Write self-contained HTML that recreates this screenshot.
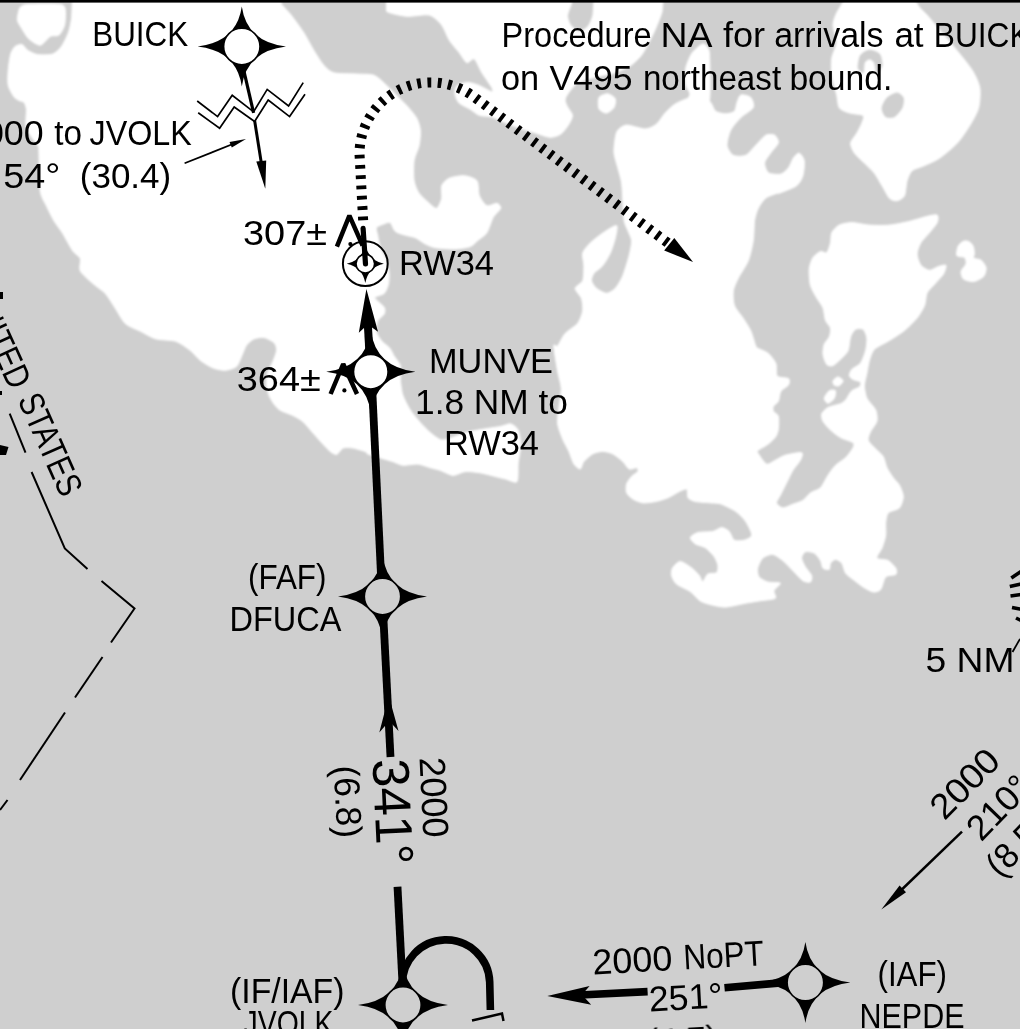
<!DOCTYPE html>
<html><head><meta charset="utf-8"><title>Chart</title>
<style>
html,body{margin:0;padding:0;background:#cfcfcf;}
body{width:1020px;height:1029px;overflow:hidden;}
svg{display:block;}
text{font-family:"Liberation Sans","DejaVu Sans",sans-serif;fill:#000;}
</style></head><body>
<svg width="1020" height="1029" viewBox="0 0 1020 1029">
<defs><filter id="bl" x="-2%" y="-2%" width="104%" height="104%"><feGaussianBlur stdDeviation="0.9"/></filter><filter id="bl2" x="-1%" y="-1%" width="102%" height="102%"><feGaussianBlur stdDeviation="0.75"/></filter></defs>
<rect width="1020" height="1029" fill="#cfcfcf"/>
<g filter="url(#bl)">
<g fill="#fff" stroke="#fff" stroke-width="1" stroke-linejoin="round">
<path d="M17.6,16.3 C17.9,14.6 18.9,9.0 20.1,7.5 C21.4,6.0 22.6,4.8 27.6,4.4 C32.6,4.0 55.5,3.7 60.2,4.4 C64.9,5.1 64.8,7.4 65.3,10.0 C65.8,12.6 65.4,22.0 64.6,25.1 C63.8,28.2 60.8,33.7 59.0,35.1 C57.2,36.5 52.6,35.1 50.2,36.4 C47.9,37.7 42.9,44.9 40.2,45.2 C37.5,45.5 31.2,40.9 28.9,38.9 C26.6,36.9 23.4,31.1 22.0,28.9 C20.6,26.7 18.2,22.9 17.6,21.3 C17.1,19.7 17.3,18.0 17.6,16.3Z"/>
<path d="M72.2,0.0 L72.2,3.1 C72.1,5.5 72.0,15.1 71.5,18.8 C71.0,22.5 69.7,29.2 68.4,32.6 C67.2,36.1 63.5,43.7 61.5,46.4 C59.5,49.1 55.7,53.0 52.7,54.0 C49.7,55.0 40.7,55.1 37.6,54.6 C34.5,54.1 29.6,51.5 27.6,50.2 C25.7,48.9 23.6,45.0 22.0,44.5 C20.4,44.0 16.5,45.2 15.1,46.4 C13.7,47.6 11.6,51.0 10.7,54.0 C9.8,57.0 8.5,66.4 8.2,70.3 C7.9,74.2 7.5,82.0 8.2,85.3 C8.9,88.6 12.5,94.7 13.8,96.6 C15.1,98.5 17.6,99.7 18.8,100.4 C20.1,101.1 22.9,101.2 23.8,102.3 C24.8,103.4 26.1,106.0 26.4,109.2 C26.7,112.4 25.0,123.5 26.4,128.0 C27.8,132.6 36.0,142.8 37.6,145.6 C39.2,148.4 38.6,145.0 38.9,150.6 C39.2,156.2 39.3,183.8 40.2,190.7 C41.1,197.6 44.7,202.0 46.4,205.8 C48.1,209.6 52.0,217.5 54.0,220.9 C56.0,224.3 60.4,229.6 62.7,233.4 C65.0,237.2 70.6,247.9 72.8,251.0 C75.0,254.1 79.4,256.0 80.3,258.5 C81.2,261.0 78.7,268.0 80.3,271.1 C81.9,274.2 89.8,280.8 92.9,283.6 C96.0,286.4 102.6,290.5 105.4,293.6 C108.2,296.7 113.0,304.9 115.5,308.7 C118.0,312.5 122.4,321.0 125.5,323.8 C128.6,326.6 136.7,329.4 140.5,331.3 C144.3,333.2 151.2,337.6 155.6,338.8 C160.0,340.1 171.4,339.9 175.7,341.3 C180.0,342.7 186.9,347.8 190.0,350.2 C193.1,352.6 197.3,358.0 200.1,360.2 C202.9,362.4 209.5,366.5 212.6,367.8 C215.7,369.1 222.2,370.5 225.2,370.3 C228.2,370.1 234.5,368.2 236.5,366.5 C238.5,364.8 240.2,359.2 241.5,356.5 C242.8,353.8 244.9,347.4 246.5,345.2 C248.1,343.0 251.8,339.8 254.0,338.9 C256.2,337.9 261.6,337.1 264.1,337.6 C266.6,338.1 272.5,341.1 274.1,342.7 C275.7,344.3 276.8,347.8 276.6,350.2 C276.5,352.6 274.0,358.7 272.9,361.5 C271.8,364.3 268.6,369.8 267.8,372.8 C267.0,375.8 266.4,382.5 266.6,385.3 C266.8,388.1 268.2,393.0 269.1,395.4 C270.0,397.8 272.7,402.3 274.1,404.2 C275.5,406.1 278.0,409.0 280.4,410.4 C282.8,411.8 290.1,414.1 292.9,415.5 C295.7,416.9 300.5,419.5 303.0,421.7 C305.5,423.9 310.5,430.2 313.0,433.0 C315.5,435.8 320.9,441.9 323.1,444.3 C325.3,446.7 328.9,450.5 330.6,451.8 C332.3,453.1 335.3,454.9 336.9,454.4 C338.5,453.9 341.1,448.9 343.1,448.1 C345.1,447.3 350.4,447.6 353.2,448.1 C356.0,448.6 363.9,451.1 365.7,451.8 C367.5,452.5 365.8,453.2 367.6,454.0 C369.4,454.8 377.1,456.9 380.2,457.8 C383.3,458.8 389.9,460.7 392.7,461.6 C395.5,462.5 399.7,465.0 402.8,465.3 C405.9,465.6 414.4,463.8 417.8,464.1 C421.2,464.4 427.6,467.0 430.4,467.8 C433.2,468.6 437.6,469.4 440.4,470.4 C443.2,471.3 449.9,475.2 453.0,475.4 C456.1,475.5 462.1,471.9 465.5,471.6 C468.9,471.3 476.8,472.3 480.6,472.9 C484.4,473.5 492.5,475.8 495.6,476.6 C498.7,477.4 503.0,478.5 505.7,479.1 C508.4,479.7 515.4,483.6 517.0,481.6 C518.6,479.6 517.7,467.3 518.2,462.8 C518.7,458.3 520.7,449.4 520.7,445.3 C520.7,441.2 519.5,432.9 518.2,430.2 C517.0,427.5 512.9,424.4 510.7,423.9 C508.5,423.4 505.7,425.4 500.7,426.4 C495.7,427.3 477.1,429.9 470.5,431.5 C463.9,433.1 451.8,438.0 448.0,439.0 C444.2,440.0 442.6,440.5 440.4,439.7 C438.2,438.9 432.9,434.8 430.4,432.7 C427.9,430.6 422.9,425.5 420.4,422.7 C417.9,419.9 412.5,413.6 410.3,410.1 C408.1,406.7 404.1,398.9 402.8,395.1 C401.6,391.3 400.6,382.9 400.3,380.0 C400.1,377.1 400.9,374.0 400.8,372.0 C400.7,370.0 400.7,366.2 399.8,364.2 C398.9,362.2 395.3,357.9 394.0,355.9 C392.7,353.9 391.2,350.0 389.7,348.1 C388.2,346.2 383.4,343.2 381.7,341.1 C380.0,339.0 376.7,334.1 376.2,331.6 C375.7,329.1 376.7,323.0 377.7,320.8 C378.7,318.6 383.4,315.7 384.2,314.0 C385.0,312.3 385.4,309.2 384.2,307.2 C383.0,305.2 374.7,299.4 374.7,297.7 C374.7,296.0 382.5,295.1 384.2,293.4 C385.9,291.7 387.9,286.5 388.5,283.9 C389.1,281.3 389.2,275.8 389.0,272.8 C388.8,269.9 387.6,263.4 386.5,260.3 C385.4,257.2 381.3,250.8 380.2,247.7 C379.1,244.6 378.2,237.7 377.7,235.2 C377.2,232.7 375.6,229.0 376.4,227.6 C377.2,226.2 382.3,224.5 384.0,223.9 C385.7,223.3 388.8,221.7 390.2,222.6 C391.6,223.5 393.4,229.8 395.3,231.4 C397.2,233.0 402.8,234.4 405.3,235.2 C407.8,236.0 412.8,236.6 415.3,237.7 C417.8,238.8 422.9,242.8 425.4,244.0 C427.9,245.2 431.6,247.1 435.4,247.7 C439.2,248.3 451.1,249.2 455.5,249.0 C459.9,248.8 467.7,247.6 470.5,246.5 C473.3,245.4 476.1,241.9 478.1,240.2 C480.2,238.5 485.0,235.5 486.9,232.7 C488.8,229.9 491.4,220.6 493.1,217.6 C494.8,214.6 500.2,210.1 500.7,208.3 C501.2,206.5 498.6,203.6 496.9,203.3 C495.2,203.0 489.1,206.7 486.9,205.8 C484.7,204.9 480.6,198.9 479.4,195.8 C478.1,192.7 478.8,183.2 476.9,180.7 C475.0,178.2 467.8,176.0 464.3,175.7 C460.9,175.4 452.1,176.9 449.3,178.2 C446.5,179.4 442.6,183.2 441.7,185.7 C440.8,188.2 442.3,195.5 441.7,198.3 C441.1,201.1 438.3,207.7 436.7,208.3 C435.1,208.9 431.4,205.2 429.2,203.3 C427.0,201.4 421.0,196.1 419.1,193.3 C417.2,190.5 414.7,184.8 414.1,180.7 C413.5,176.6 413.5,165.0 414.1,160.6 C414.7,156.2 418.3,149.4 419.1,145.6 C419.9,141.8 420.7,133.9 420.4,130.5 C420.1,127.0 418.3,121.1 416.6,118.0 C414.9,114.9 409.1,108.2 406.6,105.4 C404.1,102.6 399.0,97.9 396.5,95.4 C394.0,92.9 389.3,87.8 386.5,85.3 C383.7,82.8 377.8,76.7 374.0,75.3 C370.2,73.9 361.4,74.3 356.4,74.0 C351.4,73.7 337.9,73.9 333.8,72.8 C329.7,71.7 326.3,68.1 323.8,65.3 C321.3,62.5 316.2,54.3 313.7,50.2 C311.2,46.1 306.5,37.0 303.7,32.6 C300.9,28.2 293.9,18.7 291.1,15.1 C288.3,11.5 282.4,5.7 281.1,3.8 L281.1,0.0 L72.2,0.0Z"/>
<path d="M386.5,0.0 L386.5,11.3 C389.0,13.3 401.3,15.8 406.6,16.3 C411.9,16.8 424.8,14.0 429.2,15.1 C433.6,16.2 439.2,22.0 441.7,25.1 C444.2,28.2 447.1,36.8 449.3,40.2 C451.5,43.7 457.1,49.9 459.3,52.7 C461.5,55.5 464.9,61.9 466.8,62.7 C468.7,63.5 472.5,57.7 474.4,59.0 C476.3,60.3 479.7,69.2 481.9,72.8 C484.1,76.4 490.7,85.4 491.9,87.8 C493.1,90.2 493.4,92.1 491.8,91.8 C490.2,91.5 482.1,86.7 479.2,85.5 C476.2,84.3 470.9,82.4 468.2,82.4 C465.5,82.4 459.0,84.1 457.3,85.5 C455.6,86.9 454.7,91.1 454.9,93.3 C455.1,95.5 456.9,100.7 458.8,102.7 C460.7,104.7 467.2,107.4 469.8,109 C472.4,110.6 476.4,114.3 479.2,115.3 C481.9,116.3 488.9,116.1 491.8,116.9 C494.7,117.7 499.4,120.2 502.7,121.6 C506.0,123.0 514.5,126.4 518.4,127.8 C522.3,129.2 530.2,131.3 534.1,132.5 C538.0,133.7 546.5,137.1 549.8,137.3 C553.1,137.5 558.4,135.7 560.8,134.1 C563.1,132.5 567.1,127.0 568.6,124.7 C570.1,122.4 572.7,117.6 572.5,115.3 C572.3,113.0 567.9,108.1 567,105.9 C566.1,103.7 564.2,100.9 565.5,98 C566.8,95.1 573.3,85.5 577.6,82.8 C581.9,80.0 595.5,77.2 600,76 C604.5,74.8 610.2,74.2 614,73 C617.8,71.8 626.8,68.0 630,66 C633.2,64.0 638.0,59.2 640,57 C642.0,54.8 644.1,51.4 646,48 C647.9,44.6 653.0,34.5 655,30 C657.0,25.5 661.0,15.8 662,12 L663,0 L594,0 L593,15 C592.2,18.3 589.8,24.4 588,26.5 C586.2,28.6 581.2,31.7 579,31.5 C576.8,31.3 571.9,27.0 570.5,25 C569.1,23.0 567.4,18.0 567.5,15.5 C567.6,13.0 570.4,6.9 571,5 L572,0 L386.5,0.0Z"/>
<path d="M687,102 C685.8,100.8 690.1,96.1 690,94 C689.9,91.9 686.6,87.5 686,85 C685.4,82.5 685.5,76.1 685.5,73.7 C685.5,71.3 685.5,68.5 686.3,65.9 C687.1,63.4 690.1,55.8 691.8,53.3 C693.5,50.8 698.5,46.7 700,45.5 C701.5,44.3 703.1,43.8 704,44 C704.9,44.2 706.3,45.6 707,47 C707.7,48.4 709.2,48.4 709.5,55 C709.8,61.6 710.7,93.9 709.5,100 C708.3,106.1 702.8,103.8 700,104 C697.2,104.2 688.2,103.2 687,102Z"/>
<path d="M599.0,97.5 C600.1,95.6 605.8,93.6 607.8,93.8 C609.8,94.0 614.5,97.1 615.3,98.8 C616.1,100.5 615.1,105.8 614.0,107.6 C612.9,109.4 608.4,112.9 606.5,113.1 C604.6,113.2 599.9,110.8 599.0,108.8 C598.1,106.8 597.9,99.4 599.0,97.5Z"/>
<path d="M615.3,137.7 C615.8,134.9 616.4,131.8 617.8,130.2 C619.2,128.6 623.1,125.3 626.6,125.1 C630.1,124.9 641.6,129.1 645.4,128.9 C649.2,128.8 654.2,125.9 656.7,123.9 C659.2,121.9 663.1,115.1 665.5,112.6 C667.9,110.1 672.4,105.7 675.5,103.8 C678.6,101.9 687.1,98.4 690.6,97.5 C694.1,96.6 700.6,95.7 703.1,96.3 C705.6,96.9 709.1,100.6 710.7,102.5 C712.3,104.4 713.8,109.9 715.7,111.3 C717.6,112.7 723.4,113.8 725.7,113.8 C728.1,113.8 733.1,112.7 734.5,111.3 C735.9,109.9 736.2,104.5 737.0,102.5 C737.8,100.5 739.1,95.6 740.8,95.0 C742.5,94.4 749.2,95.9 750.8,97.5 C752.4,99.1 754.5,105.1 753.3,107.6 C752.0,110.1 743.6,114.8 740.8,117.6 C738.0,120.4 732.4,126.7 730.7,130.2 C729.0,133.6 726.7,142.1 727.0,145.2 C727.3,148.3 730.9,154.0 733.3,155.3 C735.6,156.6 743.0,156.6 745.8,155.3 C748.6,154.0 753.3,147.7 755.8,145.2 C758.3,142.7 763.5,136.4 765.9,135.2 C768.3,133.9 773.1,134.3 774.7,135.2 C776.3,136.1 778.9,140.5 778.4,142.7 C777.9,144.9 772.6,150.2 770.9,152.7 C769.2,155.2 764.9,160.3 764.6,162.8 C764.3,165.3 766.4,171.4 768.4,172.8 C770.4,174.2 778.4,174.7 780.9,174.1 C783.4,173.5 786.9,169.8 788.5,167.8 C790.1,165.8 792.2,159.6 793.5,157.8 C794.8,156.0 797.8,152.8 799.1,153.1 C800.4,153.4 803.7,157.8 804.2,160.6 C804.7,163.4 803.9,172.6 802.9,175.7 C801.9,178.8 799.6,183.5 796.6,185.7 C793.6,187.9 781.4,192.4 779.1,193.3 C776.8,194.2 780.0,192.3 778.4,192.9 C776.8,193.5 768.4,196.0 765.9,197.9 C763.4,199.8 759.8,205.2 758.4,208.0 C757.0,210.8 755.2,216.4 754.6,220.5 C754.0,224.6 754.1,235.6 753.3,240.6 C752.5,245.6 750.2,256.0 748.3,260.7 C746.4,265.4 740.2,274.4 738.3,278.2 C736.4,282.0 733.8,287.4 733.3,290.8 C732.8,294.2 733.2,302.4 734.5,305.8 C735.8,309.2 741.3,315.3 743.3,318.4 C745.3,321.5 749.2,327.4 750.8,330.9 C752.4,334.3 754.8,343.8 755.8,346.0 C756.8,348.2 756.8,347.6 758.4,348.5 C760.0,349.4 766.2,351.6 768.4,353.5 C770.6,355.4 774.8,360.8 775.9,363.6 C777.0,366.4 775.6,374.2 777.2,376.1 C778.8,378.0 787.1,377.5 788.5,378.6 C789.9,379.7 789.5,383.3 788.5,384.9 C787.5,386.5 782.2,389.2 780.9,391.2 C779.6,393.2 779.3,399.3 778.4,401.2 C777.5,403.1 774.0,404.9 773.4,406.2 C772.8,407.5 772.8,410.0 773.4,411.3 C774.0,412.6 777.8,414.1 778.4,416.3 C779.0,418.5 778.7,426.3 778.4,428.8 C778.1,431.3 777.1,434.5 775.9,436.4 C774.6,438.3 770.6,442.2 768.4,443.9 C766.2,445.6 759.7,449.1 758.4,450.2 C757.1,451.3 756.7,451.0 757.7,452.7 C758.7,454.4 764.3,463.1 766.5,464.0 C768.7,464.9 772.9,461.3 775.3,460.2 C777.6,459.1 782.0,456.1 785.3,455.2 C788.6,454.3 799.7,452.1 801.6,452.7 C803.5,453.3 801.5,458.0 800.4,460.2 C799.3,462.4 794.6,467.5 792.9,470.3 C791.2,473.1 788.2,479.7 786.6,482.8 C785.0,485.9 781.6,492.9 780.3,495.4 C779.0,497.9 776.2,501.3 776.5,502.9 C776.8,504.5 780.8,507.7 782.8,507.9 C784.8,508.1 790.4,505.1 792.9,504.2 C795.4,503.3 800.7,501.8 802.9,500.4 C805.1,499.0 808.2,494.5 810.4,492.9 C812.6,491.3 818.3,490.0 820.5,487.8 C822.7,485.6 826.1,478.1 828.0,475.3 C829.9,472.5 833.3,467.5 835.5,465.3 C837.7,463.1 843.4,459.9 845.6,457.7 C847.8,455.5 852.2,449.6 853.1,447.7 C854.0,445.8 854.7,444.0 853.1,442.7 C851.5,441.4 843.3,439.2 840.5,437.6 C837.7,436.0 832.7,432.1 830.5,430.1 C828.3,428.1 824.1,423.3 823.0,421.3 C821.9,419.3 821.1,415.5 821.7,413.8 C822.3,412.1 825.6,408.8 828.0,407.5 C830.4,406.2 838.3,404.7 840.5,403.8 C842.7,402.9 844.8,400.7 845.6,400.0 C846.4,399.3 846.0,399.5 846.8,398.3 C847.6,397.1 850.2,392.1 851.8,390.7 C853.4,389.3 858.3,388.1 859.4,387.0 C860.5,385.9 861.4,382.9 860.6,382.0 C859.8,381.1 854.5,380.3 853.1,379.5 C851.7,378.7 849.5,377.0 849.3,375.7 C849.1,374.4 850.4,371.0 851.8,369.4 C853.2,367.8 858.9,365.5 860.6,363.1 C862.3,360.8 864.8,353.7 865.6,350.6 C866.4,347.5 867.2,340.7 866.9,338.0 C866.6,335.3 864.5,330.4 863.1,329.3 C861.7,328.2 857.2,328.4 855.6,329.3 C854.0,330.2 851.5,334.1 850.6,336.8 C849.7,339.5 849.2,347.9 848.1,350.6 C847.0,353.3 843.7,356.2 841.8,358.1 C839.9,360.0 834.9,364.8 833.0,365.6 C831.1,366.4 828.0,365.8 826.7,364.4 C825.5,363.0 823.3,356.9 823.0,354.4 C822.7,351.9 823.4,346.5 824.2,344.3 C825.0,342.1 828.5,338.8 829.3,336.8 C830.1,334.8 831.0,330.0 830.5,328.0 C830.0,326.0 826.4,323.0 825.5,320.5 C824.6,318.0 824.1,310.7 823.0,307.9 C821.9,305.1 818.3,300.7 816.7,297.9 C815.1,295.1 811.3,288.9 810.4,285.3 C809.5,281.7 808.9,272.4 809.2,269.0 C809.5,265.6 811.5,259.9 812.9,257.7 C814.3,255.5 818.8,252.1 820.5,251.5 C822.2,250.9 825.5,253.8 826.7,252.7 C828.0,251.6 829.9,245.2 830.5,242.7 C831.1,240.2 830.7,234.8 831.8,232.6 C832.9,230.4 836.8,226.3 839.3,225.1 C841.8,223.8 848.0,222.6 851.8,222.6 C855.6,222.6 864.7,224.8 869.4,225.1 C874.1,225.4 884.5,225.6 889.5,225.1 C894.5,224.6 904.9,222.4 909.6,221.3 C914.3,220.2 923.6,217.1 927.1,216.3 C930.6,215.5 935.9,214.3 937.2,215.1 C938.5,215.9 938.2,220.4 937.2,222.6 C936.2,224.8 931.6,230.1 929.6,232.6 C927.6,235.1 922.5,240.0 920.9,242.7 C919.3,245.4 917.1,251.2 917.1,254.0 C917.1,256.8 919.3,263.3 920.9,265.3 C922.5,267.3 927.4,270.2 929.6,270.3 C931.8,270.4 936.4,267.1 938.4,266.5 C940.4,265.9 945.4,264.4 946.0,265.3 C946.6,266.2 944.8,271.8 943.5,274.0 C942.2,276.2 937.9,280.4 935.9,282.8 C933.9,285.2 928.5,290.1 927.1,292.9 C925.7,295.7 925.9,302.3 924.6,305.4 C923.4,308.5 919.6,314.9 917.1,318.0 C914.6,321.1 908.0,327.7 904.5,330.5 C901.0,333.3 893.3,338.1 889.5,340.5 C885.7,342.9 876.9,346.8 874.4,349.3 C871.9,351.8 870.3,357.6 869.4,360.6 C868.5,363.6 867.5,370.1 866.9,373.2 C866.3,376.3 864.4,382.6 864.4,385.7 C864.4,388.8 865.5,395.3 866.9,398.3 C868.3,401.3 874.5,407.1 875.7,410.0 C877.0,412.9 877.5,418.6 876.9,421.3 C876.3,424.0 871.8,429.0 870.7,431.4 C869.6,433.8 867.6,438.0 868.2,440.2 C868.8,442.4 873.8,446.9 875.7,448.9 C877.6,450.9 881.8,454.1 883.2,456.5 C884.6,458.9 885.7,465.1 887.0,467.8 C888.3,470.5 891.7,475.6 893.3,477.8 C894.9,480.0 898.2,482.9 899.5,485.3 C900.8,487.7 903.3,493.8 903.3,496.6 C903.3,499.4 901.4,505.9 899.5,507.9 C897.6,509.9 889.9,511.0 888.2,512.9 C886.5,514.8 886.0,520.2 885.7,523.0 C885.4,525.8 886.2,532.4 885.7,535.5 C885.2,538.6 883.1,545.3 882.0,548.1 C880.9,550.9 876.1,556.5 876.9,558.1 C877.7,559.7 885.8,559.3 888.2,560.6 C890.6,561.9 894.8,566.5 895.8,568.2 C896.8,569.9 897.1,573.3 895.8,574.4 C894.5,575.5 887.6,575.0 885.7,576.9 C883.8,578.8 882.3,587.6 880.7,589.5 C879.1,591.4 875.4,592.3 873.2,592.0 C871.0,591.7 865.6,588.6 863.1,587.0 C860.6,585.4 855.3,581.2 853.1,579.5 C850.9,577.8 847.0,575.2 845.6,573.2 C844.2,571.2 843.1,564.8 841.8,563.1 C840.5,561.4 836.9,559.4 835.5,559.4 C834.1,559.4 831.3,561.9 830.5,563.1 C829.7,564.4 830.2,568.8 829.3,569.4 C828.4,570.0 824.1,569.3 823.0,568.2 C821.9,567.1 821.6,562.5 820.5,560.6 C819.4,558.7 816.1,554.2 814.2,553.1 C812.3,552.0 807.0,551.2 805.4,551.8 C803.8,552.4 801.6,556.2 801.6,558.1 C801.6,560.0 804.1,564.7 805.4,566.9 C806.7,569.1 811.1,573.8 811.7,575.7 C812.3,577.6 811.5,581.4 810.4,582.0 C809.3,582.6 805.1,582.1 802.9,580.7 C800.7,579.3 795.4,573.2 792.9,570.7 C790.4,568.2 785.3,562.6 782.8,560.6 C780.3,558.6 775.3,554.7 772.8,554.4 C770.3,554.1 764.6,556.4 762.7,558.1 C760.8,559.8 758.2,565.9 757.7,568.2 C757.2,570.6 757.7,575.2 759.0,576.9 C760.3,578.6 765.1,581.2 767.8,582.0 C770.5,582.8 779.5,582.1 780.3,583.2 C781.1,584.3 774.6,588.8 774.0,590.7 C773.4,592.6 777.0,597.0 775.3,598.3 C773.6,599.6 764.0,600.2 760.2,600.8 C756.4,601.4 749.6,602.5 745.2,603.3 C740.8,604.1 729.5,607.0 725.1,607.1 C720.7,607.2 713.1,605.3 710.0,604.5 C706.9,603.7 702.5,602.4 700.0,600.8 C697.5,599.2 693.2,593.7 690.3,591.6 C687.4,589.5 678.9,586.1 676.5,584.1 C674.1,582.1 672.0,577.3 671.5,575.3 C671.0,573.3 671.6,569.5 672.7,567.8 C673.8,566.1 677.9,561.5 680.2,561.5 C682.6,561.5 689.1,566.1 691.5,567.8 C693.9,569.5 697.7,573.6 699.1,575.3 C700.5,577.0 701.7,581.8 702.8,581.6 C703.9,581.4 706.1,575.1 707.8,574.0 C709.5,572.9 715.3,573.9 716.6,572.8 C717.9,571.7 718.2,567.3 717.9,565.3 C717.6,563.3 715.7,558.7 714.1,556.5 C712.5,554.3 707.6,549.3 705.3,547.7 C702.9,546.1 697.2,545.2 695.3,543.9 C693.4,542.6 690.0,539.0 690.3,537.6 C690.6,536.2 695.0,533.4 697.8,532.6 C700.6,531.8 709.9,532.0 712.9,531.4 C715.9,530.8 719.6,527.6 721.6,527.6 C723.6,527.6 727.6,529.8 729.2,531.4 C730.8,533.0 732.3,539.1 734.2,540.2 C736.1,541.3 742.0,540.8 744.2,540.2 C746.4,539.6 751.6,537.5 751.8,535.1 C752.0,532.7 747.5,524.3 745.5,521.3 C743.5,518.3 738.6,513.5 735.5,511.3 C732.4,509.1 723.5,504.9 720.4,503.8 C717.3,502.8 713.8,503.2 710.7,502.9 C707.6,502.6 698.4,502.2 695.6,501.6 C692.8,501.0 689.2,499.4 688.1,497.8 C687.0,496.2 687.9,489.9 686.8,489.1 C685.7,488.3 681.6,490.5 679.3,491.6 C676.9,492.7 671.0,496.6 668.0,497.8 C665.0,499.1 658.6,501.0 655.5,501.6 C652.4,502.2 645.7,503.2 642.9,502.9 C640.1,502.6 634.9,500.4 632.9,499.1 C630.9,497.8 627.4,494.7 626.6,492.8 C625.8,490.9 626.0,486.0 626.6,484.0 C627.2,482.0 630.2,478.1 631.6,476.5 C633.0,474.9 637.3,472.6 637.9,471.5 C638.5,470.4 637.7,468.0 636.6,467.7 C635.5,467.4 630.8,469.8 629.1,469.0 C627.4,468.2 624.8,463.4 622.8,461.5 C620.8,459.6 615.3,455.2 612.8,453.9 C610.3,452.6 605.2,451.4 602.7,451.4 C600.2,451.4 595.1,452.6 592.7,453.9 C590.4,455.2 585.5,459.6 583.9,461.5 C582.3,463.4 581.5,468.7 580.2,469.0 C579.0,469.3 575.3,466.2 573.9,464.0 C572.5,461.8 570.3,454.5 568.9,451.4 C567.5,448.3 564.0,442.3 562.6,438.9 C561.2,435.4 558.1,427.6 557.6,423.8 C557.1,420.0 558.3,413.1 558.8,408.7 C559.3,404.3 561.4,393.4 561.3,388.7 C561.1,384.0 558.5,376.4 557.6,371.1 C556.7,365.8 553.8,349.1 553.8,346.0 C553.8,342.9 556.2,347.6 557.6,346.0 C559.0,344.4 562.6,336.3 565.1,333.5 C567.6,330.7 575.4,326.2 577.6,323.4 C579.8,320.6 582.2,314.0 582.7,310.9 C583.2,307.8 582.4,301.1 581.4,298.3 C580.4,295.5 574.9,290.5 575.1,288.3 C575.3,286.1 581.6,283.5 582.7,280.7 C583.8,277.9 583.9,269.1 583.9,265.7 C583.9,262.2 581.9,255.9 582.7,253.1 C583.5,250.3 587.7,245.6 590.2,243.1 C592.7,240.6 599.4,235.3 602.7,233.1 C606.0,230.9 614.9,224.9 616.5,225.5 C618.1,226.1 616.1,234.7 615.3,238.1 C614.5,241.5 611.9,249.7 610.3,253.1 C608.7,256.6 604.7,263.2 602.7,265.7 C600.7,268.2 595.4,271.3 594.0,273.2 C592.6,275.1 591.2,278.8 591.5,280.7 C591.8,282.6 594.6,286.7 596.5,288.3 C598.4,289.9 604.1,293.3 606.5,293.3 C608.9,293.3 613.3,290.5 615.3,288.3 C617.3,286.1 621.1,279.8 622.8,275.7 C624.5,271.6 628.0,260.0 629.1,255.6 C630.2,251.2 631.8,243.7 631.6,240.6 C631.4,237.5 628.7,233.0 627.8,230.5 C626.9,228.0 624.7,224.3 624.1,220.5 C623.5,216.7 623.1,205.1 622.8,200.4 C622.5,195.7 622.2,187.0 621.6,182.9 C621.0,178.8 618.8,171.6 617.8,167.8 C616.8,164.0 614.3,156.5 614.0,152.7 C613.7,148.9 614.8,140.5 615.3,137.7Z"/>
<path d="M844.3,0.0 L914.6,0.0 L919.6,7.5 C921.2,9.4 924.6,12.3 927.1,15.1 C929.6,17.9 936.2,26.0 939.7,30.1 C943.2,34.2 950.6,42.7 954.7,47.7 C958.8,52.7 969.2,65.3 972.3,70.3 C975.4,75.3 979.0,83.1 979.8,87.8 C980.6,92.5 979.9,103.2 978.6,107.9 C977.4,112.6 972.5,121.1 969.8,125.5 C967.1,129.9 961.1,139.0 957.3,143.1 C953.5,147.2 943.8,155.3 939.7,158.1 C935.6,160.9 928.1,164.0 924.6,165.6 C921.1,167.2 914.3,168.8 912.1,170.7 C909.9,172.6 908.1,177.6 907.1,180.7 C906.1,183.8 905.8,193.3 904.5,195.8 C903.2,198.3 898.9,200.5 897.0,200.8 C895.1,201.1 891.4,200.2 889.5,198.3 C887.6,196.4 883.9,188.8 882.0,185.7 C880.1,182.6 876.6,176.0 874.4,173.2 C872.2,170.4 866.9,165.6 864.4,163.1 C861.9,160.6 856.1,155.6 854.4,153.1 C852.7,150.6 850.3,145.6 850.6,143.1 C850.9,140.6 855.5,135.5 856.9,133.0 C858.3,130.5 861.1,125.2 861.9,123.0 C862.7,120.8 864.7,116.8 863.1,115.5 C861.5,114.2 852.3,113.9 849.3,112.9 C846.3,112.0 840.9,110.1 839.3,107.9 C837.7,105.7 837.7,99.5 836.8,95.4 C835.9,91.3 832.4,80.0 831.8,75.3 C831.2,70.6 831.2,61.8 831.8,57.7 C832.4,53.6 836.6,46.8 836.8,42.7 C836.9,38.6 833.0,28.9 833.0,25.1 C833.0,21.3 835.4,15.6 836.8,12.5 L844.3,0.0Z"/>
<path d="M833.0,380.7 C833.5,379.7 836.7,376.9 838.0,376.9 C839.3,376.9 842.9,379.6 843.1,380.7 C843.3,381.8 840.4,385.1 839.3,385.7 C838.2,386.3 835.1,385.8 834.3,385.2 C833.5,384.6 832.5,381.7 833.0,380.7Z"/>
<path d="M824.2,398.3 C824.4,396.7 827.9,391.6 829.3,390.7 C830.7,389.8 834.9,389.8 835.5,390.7 C836.1,391.6 835.2,396.7 834.3,398.3 C833.4,399.9 829.3,403.3 828.0,403.3 C826.7,403.3 824.0,399.9 824.2,398.3Z"/>
<path d="M957.3,250.2 C956.8,248.3 959.6,243.8 961.0,242.7 C962.4,241.6 966.9,240.8 968.5,241.4 C970.1,242.0 973.0,245.7 973.6,247.7 C974.2,249.7 972.7,256.1 973.6,257.7 C974.5,259.3 979.5,258.9 981.1,260.2 C982.7,261.5 985.8,265.8 986.1,267.8 C986.4,269.8 985.2,274.8 983.6,276.5 C982.0,278.2 976.1,281.3 973.6,281.6 C971.1,281.9 965.1,280.4 963.5,279.1 C961.9,277.8 960.7,273.4 961.0,271.5 C961.3,269.6 965.5,265.7 966.0,264.0 C966.5,262.3 965.9,259.4 964.8,257.7 C963.7,256.0 957.8,252.1 957.3,250.2Z"/>
<path d="M957.3,256.0 C955.4,254.8 957.6,247.9 958.5,246.0 C959.4,244.1 963.1,241.1 964.8,240.9 C966.5,240.7 971.2,242.8 972.3,244.7 C973.4,246.6 975.5,254.6 973.6,256.0 C971.7,257.4 959.2,257.2 957.3,256.0Z"/>
</g>
<g fill="#cfcfcf" stroke="#cfcfcf" stroke-width="1" stroke-linejoin="round">
<path d="M882.0,107.9 C882.2,105.6 885.1,99.8 887.0,97.9 C888.9,96.0 895.0,92.9 897.0,92.9 C899.0,92.9 902.7,96.0 903.3,97.9 C903.9,99.8 903.1,105.6 902.0,107.9 C900.9,110.2 896.5,115.6 894.5,116.7 C892.5,117.8 887.3,117.8 885.7,116.7 C884.1,115.6 881.8,110.2 882.0,107.9Z"/>
<path d="M858.1,67.8 C857.8,65.6 859.2,57.4 860.6,55.2 C862.0,53.0 867.0,50.4 869.4,50.2 C871.8,50.1 877.9,52.1 879.5,54.0 C881.1,55.9 882.3,62.9 882.0,65.3 C881.7,67.6 877.9,73.1 876.9,72.8 C875.9,72.5 875.3,64.4 874.4,62.7 C873.5,61.0 870.6,59.0 869.4,59.0 C868.1,59.0 865.2,61.0 864.4,62.7 C863.6,64.4 863.9,72.2 863.1,72.8 C862.3,73.4 858.4,70.0 858.1,67.8Z"/>
</g>

</g>
<g filter="url(#bl2)">
<rect x="0" y="0" width="1020" height="2.6" fill="#000"/>
<g stroke="#000" stroke-width="2" fill="none" stroke-linecap="butt"><path d="M9.7,413.7 L25.5,452.6"/><path d="M31.6,472 L64.8,548.4 L87.5,569"/><path d="M101.5,581 L134.5,608.5 L111,642.5"/><path d="M102.5,657 L75,697.5"/><path d="M65,712.5 L20,780"/><path d="M7.5,800 L0,810"/></g>
<g stroke="#000" fill="none" stroke-width="1.7" stroke-linejoin="miter"><path d="M197.2,101 L217.6,116.6 L232.2,95.3 L253.6,111.8 L267.2,89.4 L288.6,106 L303.2,82.6"/><path d="M198.2,112.8 L219.6,128.3 L234.2,107 L254.6,121.5 L268.2,100 L289.6,116.6 L305,94.3"/></g>
<path d="M242.3,64 L253.6,112.8" stroke="#000" stroke-width="3.2"/>
<path d="M254.6,120.5 L261.5,164" stroke="#000" stroke-width="3"/>
<path d="M256.3,161.6 L266.2,160.4 L265.3,188.8Z" fill="#000"/>
<path d="M241.8,6.5 Q246.883,41.9 286.0,46.5 Q246.883,51.1 241.8,86.5 Q236.717,51.1 197.60000000000002,46.5 Q236.717,41.9 241.8,6.5Z M223.60000000000002,46.5 A18.2,18.2 0 1 0 260.0,46.5 A18.2,18.2 0 1 0 223.60000000000002,46.5Z" fill="#000" fill-rule="evenodd"/><circle cx="241.8" cy="46.5" r="18.2" fill="#fff" stroke="#000" stroke-width="1.6"/>
<path d="M184.6,163.3 L236,142.8" stroke="#000" stroke-width="1.7"/><path d="M246,139 L229.5,142 L231.8,147.6Z" fill="#000"/>
<path d="M363.15,220.2 L359.5,153.9 A71.5,71.5 0 0 1 474.05,96.8 L668,243.1" fill="none" stroke="#000" stroke-width="10" stroke-dasharray="3.8 6.5"/>
<path d="M693,262 L664.2,250.6 L674.3,238Z" fill="#000"/>
<circle cx="365.3" cy="263.7" r="22.4" fill="none" stroke="#000" stroke-width="2"/>
<path d="M365.3,244.29999999999998 Q368.276,260.596 383.90000000000003,263.7 Q368.276,266.804 365.3,283.09999999999997 Q362.324,266.804 346.7,263.7 Q362.324,260.596 365.3,244.29999999999998Z M356.0,263.7 A9.3,9.3 0 1 0 374.6,263.7 A9.3,9.3 0 1 0 356.0,263.7Z" fill="#000" fill-rule="evenodd"/><circle cx="365.3" cy="263.7" r="9.3" fill="none" stroke="#000" stroke-width="1.6"/>
<path d="M363.1,228.4 L365.5,264" stroke="#000" stroke-width="5.2" stroke-linecap="round"/>
<path d="M336.9,246.6 L349.4,215.6 L362.6,245.5" fill="none" stroke="#000" stroke-width="4.5" stroke-linejoin="bevel"/><circle cx="350.4" cy="244.1" r="2.1" fill="#000"/>
<path d="M330.6,394 L343.2,364 L357,394" fill="none" stroke="#000" stroke-width="4.5" stroke-linejoin="bevel"/><circle cx="344.4" cy="390.4" r="2.1" fill="#000"/>
<path d="M367.7,322 L369.6,356" stroke="#000" stroke-width="8"/>
<path d="M366.4,289 L358.8,332.8 L367.8,324.5 L378,331.8Z" fill="#000"/>
<path d="M370.8,330.7 Q375.92900000000003,366.985 415.40000000000003,371.7 Q375.92900000000003,376.41499999999996 370.8,412.7 Q365.671,376.41499999999996 326.2,371.7 Q365.671,366.985 370.8,330.7Z M353.5,371.7 A17.3,17.3 0 1 0 388.1,371.7 A17.3,17.3 0 1 0 353.5,371.7Z" fill="#000" fill-rule="evenodd"/><circle cx="370.8" cy="371.7" r="17.3" fill="#fff" stroke="#000" stroke-width="1.6"/>
<path d="M372.5,395 L381,575" stroke="#000" stroke-width="7.8"/>
<path d="M382.5,555.5 Q387.6175,591.785 427.0,596.5 Q387.6175,601.215 382.5,637.5 Q377.3825,601.215 338.0,596.5 Q377.3825,591.785 382.5,555.5Z M364.3,596.5 A18.2,18.2 0 1 0 400.7,596.5 A18.2,18.2 0 1 0 364.3,596.5Z" fill="#000" fill-rule="evenodd"/><circle cx="382.5" cy="596.5" r="18.2" fill="none" stroke="#000" stroke-width="1.6"/>
<path d="M383.5,620 L390.5,757" stroke="#000" stroke-width="7.8"/>
<path d="M388.8,696 L379.3,732.5 L389.3,721 L398.5,731Z" fill="#000"/>
<path d="M397.5,886.7 L402.3,980" stroke="#000" stroke-width="7.8"/>
<path d="M402.5,985 A43.6,43.6 0 0 1 489.7,982 L490.4,1010" fill="none" stroke="#000" stroke-width="7.6"/>
<path d="M472,1020.5 L502,1013.6 L503.5,1021" fill="none" stroke="#000" stroke-width="2.5"/>
<path d="M403,964 Q408.175,1000.285 448,1005 Q408.175,1009.715 403,1046 Q397.825,1009.715 358,1005 Q397.825,1000.285 403,964Z M384.8,1005 A18.2,18.2 0 1 0 421.2,1005 A18.2,18.2 0 1 0 384.8,1005Z" fill="#000" fill-rule="evenodd"/><circle cx="403" cy="1005" r="18.2" fill="none" stroke="#000" stroke-width="1.6"/>
<path d="M777.8,983.1 L724.5,987.8" stroke="#000" stroke-width="7.6"/>
<path d="M647.6,991.6 L580,995" stroke="#000" stroke-width="7.6"/>
<path d="M547.3,995.9 L589.6,986 L582,994.8 L591.2,1004.8Z" fill="#000"/>
<path d="M805.4,942.1 Q810.5749999999999,977.9425 850.4,982.6 Q810.5749999999999,987.2575 805.4,1023.1 Q800.225,987.2575 760.4,982.6 Q800.225,977.9425 805.4,942.1Z M787.1,982.6 A18.3,18.3 0 1 0 823.6999999999999,982.6 A18.3,18.3 0 1 0 787.1,982.6Z" fill="#000" fill-rule="evenodd"/><circle cx="805.4" cy="982.6" r="18.3" fill="none" stroke="#000" stroke-width="1.6"/>
<path d="M962,831.7 L893,898" stroke="#000" stroke-width="2.5"/>
<path d="M881.3,909.6 L899.6,885.6 L906,892.2Z" fill="#000"/>
<path d="M1012.5,652 L1020,638.9" stroke="#000" stroke-width="1.8"/>
<g stroke="#000" stroke-width="3.6"><path d="M1011.3,578 L1021,571.5"/><path d="M1009.8,586.5 L1021,584"/><path d="M1010.5,596 L1021,594.5"/><path d="M1012,607.5 L1021,609.2"/><path d="M1016,618 L1021,620.5"/></g>
<path d="M0,445 L8.5,447 L6,455 L0,455Z" fill="#000"/><rect x="0" y="391" width="2" height="4" fill="#000"/><rect x="0" y="292" width="3" height="7" fill="#000"/>
<text x="92.2" y="46.2" font-size="35.5" textLength="96" lengthAdjust="spacingAndGlyphs">BUICK</text>
<text x="43.6" y="145" font-size="35.5" text-anchor="end" textLength="79.5" lengthAdjust="spacingAndGlyphs">2000</text>
<text x="54.3" y="145" font-size="35.5" textLength="27.7" lengthAdjust="spacingAndGlyphs">to</text>
<text x="89.6" y="145" font-size="35.5" textLength="102.2" lengthAdjust="spacingAndGlyphs">JVOLK</text>
<text x="-24" y="187.5" font-size="35.5">1</text>
<text x="3.3" y="187.5" font-size="35.5" textLength="57.1" lengthAdjust="spacingAndGlyphs">54°</text>
<text x="79.8" y="187.5" font-size="35.5" textLength="91.4" lengthAdjust="spacingAndGlyphs">(30.4)</text>
<text x="243" y="245" font-size="35.5" textLength="84" lengthAdjust="spacingAndGlyphs">307±</text>
<text x="399" y="275.3" font-size="35.5" textLength="95" lengthAdjust="spacingAndGlyphs">RW34</text>
<text x="236.8" y="390.5" font-size="35.5" textLength="84" lengthAdjust="spacingAndGlyphs">364±</text>
<text x="429" y="373.2" font-size="35.5" textLength="124" lengthAdjust="spacingAndGlyphs">MUNVE</text>
<text x="415" y="414.3" font-size="35.5" textLength="153" lengthAdjust="spacingAndGlyphs">1.8 NM to</text>
<text x="444" y="455.3" font-size="35.5" textLength="95" lengthAdjust="spacingAndGlyphs">RW34</text>
<text x="501.6" y="47.2" font-size="35.5" textLength="150.0" lengthAdjust="spacingAndGlyphs">Procedure</text>
<text x="660.4" y="47.2" font-size="35.5" textLength="52.0" lengthAdjust="spacingAndGlyphs">NA</text>
<text x="722.9" y="47.2" font-size="35.5" textLength="42.2" lengthAdjust="spacingAndGlyphs">for</text>
<text x="774.2" y="47.2" font-size="35.5" textLength="109.4" lengthAdjust="spacingAndGlyphs">arrivals</text>
<text x="894.4" y="47.2" font-size="35.5" textLength="29.2" lengthAdjust="spacingAndGlyphs">at</text>
<text x="933.8" y="47.2" font-size="35.5" textLength="96.8" lengthAdjust="spacingAndGlyphs">BUICK</text>
<text x="500.9" y="89.9" font-size="35.5" textLength="38.2" lengthAdjust="spacingAndGlyphs">on</text>
<text x="549.4" y="89.9" font-size="35.5" textLength="83.2" lengthAdjust="spacingAndGlyphs">V495</text>
<text x="642.9" y="89.9" font-size="35.5" textLength="138.2" lengthAdjust="spacingAndGlyphs">northeast</text>
<text x="789.4" y="89.9" font-size="35.5" textLength="103.0" lengthAdjust="spacingAndGlyphs">bound.</text>
<text x="248" y="589" font-size="35.5" textLength="78.5" lengthAdjust="spacingAndGlyphs">(FAF)</text>
<text x="229.5" y="630.9" font-size="35.5" textLength="112" lengthAdjust="spacingAndGlyphs">DFUCA</text>
<text x="230" y="1002.5" font-size="35.5" textLength="114.5" lengthAdjust="spacingAndGlyphs">(IF/IAF)</text>
<text x="243.5" y="1035" font-size="35.5" textLength="90" lengthAdjust="spacingAndGlyphs">JVOLK</text>
<text x="593" y="974.6" font-size="35.5" textLength="80" lengthAdjust="spacingAndGlyphs" transform="rotate(-3.2 593 974.6)">2000</text>
<text x="684" y="969.6" font-size="35.5" textLength="80.5" lengthAdjust="spacingAndGlyphs" transform="rotate(-3.2 684 969.6)">NoPT</text>
<text x="649.5" y="1011.6" font-size="35.5" textLength="74" lengthAdjust="spacingAndGlyphs" transform="rotate(-3.2 649.5 1011.6)">251°</text>
<text x="648" y="1054" font-size="35.5" textLength="70" lengthAdjust="spacingAndGlyphs" transform="rotate(-3.2 648 1054)">(4.7)</text>
<text x="877.5" y="985.9" font-size="35.5" textLength="69.5" lengthAdjust="spacingAndGlyphs">(IAF)</text>
<text x="859.5" y="1028" font-size="35.5" textLength="105" lengthAdjust="spacingAndGlyphs">NEPDE</text>
<text x="925.5" y="672" font-size="35.5" textLength="89" lengthAdjust="spacingAndGlyphs">5 NM</text>
<text x="973.3" y="792" font-size="35.5" text-anchor="middle" textLength="82" lengthAdjust="spacingAndGlyphs" transform="rotate(-45.5 973.3 792)">2000</text>
<text x="981.3" y="842.5" font-size="35.5" textLength="74" lengthAdjust="spacingAndGlyphs" transform="rotate(-46 981.3 842.5)">210°</text>
<text x="1000.6" y="879" font-size="35.5" textLength="70" lengthAdjust="spacingAndGlyphs" transform="rotate(-46 1000.6 879)">(8.5)</text>
<text x="419.6" y="757.8" font-size="36.5" textLength="80.5" lengthAdjust="spacingAndGlyphs" transform="rotate(87.35 419.6 757.8)">2000</text>
<text x="372.5" y="759.5" font-size="52" textLength="106" lengthAdjust="spacingAndGlyphs" transform="rotate(87.35 372.5 759.5)">341°</text>
<text x="333.8" y="766" font-size="36" textLength="72.5" lengthAdjust="spacingAndGlyphs" transform="rotate(87.35 333.8 766)">(6.8)</text>
<text x="10.1" y="391" font-size="35.5" text-anchor="end" textLength="108" lengthAdjust="spacingAndGlyphs" transform="rotate(65.5 10.1 391)">UNITED</text>
<text x="17.2" y="399.7" font-size="35.5" textLength="108.5" lengthAdjust="spacingAndGlyphs" transform="rotate(66 17.2 399.7)">STATES</text>

</g>
</svg>
</body></html>
